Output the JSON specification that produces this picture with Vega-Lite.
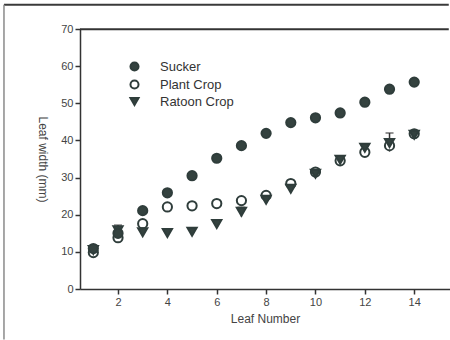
{
  "$schema": "https://vega.github.io/schema/vega-lite/v6.json",
  "width": 370,
  "height": 260,
  "autosize": {"type": "none"},
  "padding": {"left": 80, "top": 29, "right": 0, "bottom": 51},
  "background": "white",
  "config": {
    "view": {"stroke": null},
    "font": "Liberation Sans",
    "axis": {
      "domainColor": "#333",
      "domainWidth": 1.5,
      "tickColor": "#333",
      "tickWidth": 1.5,
      "tickSize": 5,
      "labelColor": "#444",
      "labelFont": "Liberation Sans",
      "labelFontSize": 11,
      "labelOverlap": false,
      "titleColor": "#444",
      "titleFont": "Liberation Sans",
      "titleFontSize": 12,
      "titleFontWeight": "normal",
      "grid": false
    },
    "legend": {
      "labelFont": "Liberation Sans",
      "labelFontSize": 13,
      "labelColor": "#333"
    }
  },
  "datasets": {
    "widths": [
      {"leaf": 1, "series": "Ratoon Crop", "width": 10.5},
      {"leaf": 2, "series": "Ratoon Crop", "width": 15.8},
      {"leaf": 3, "series": "Ratoon Crop", "width": 15.3},
      {"leaf": 4, "series": "Ratoon Crop", "width": 15.1},
      {"leaf": 5, "series": "Ratoon Crop", "width": 15.4},
      {"leaf": 6, "series": "Ratoon Crop", "width": 17.5},
      {"leaf": 7, "series": "Ratoon Crop", "width": 20.8},
      {"leaf": 8, "series": "Ratoon Crop", "width": 24.0},
      {"leaf": 9, "series": "Ratoon Crop", "width": 27.0},
      {"leaf": 10, "series": "Ratoon Crop", "width": 31.0},
      {"leaf": 11, "series": "Ratoon Crop", "width": 34.8},
      {"leaf": 12, "series": "Ratoon Crop", "width": 38.0},
      {"leaf": 13, "series": "Ratoon Crop", "width": 39.3},
      {"leaf": 14, "series": "Ratoon Crop", "width": 41.5},
      {"leaf": 1, "series": "Plant Crop", "width": 9.8},
      {"leaf": 2, "series": "Plant Crop", "width": 13.8},
      {"leaf": 3, "series": "Plant Crop", "width": 17.6},
      {"leaf": 4, "series": "Plant Crop", "width": 22.1},
      {"leaf": 5, "series": "Plant Crop", "width": 22.4},
      {"leaf": 6, "series": "Plant Crop", "width": 23.0},
      {"leaf": 7, "series": "Plant Crop", "width": 23.8},
      {"leaf": 8, "series": "Plant Crop", "width": 25.2},
      {"leaf": 9, "series": "Plant Crop", "width": 28.4},
      {"leaf": 10, "series": "Plant Crop", "width": 31.5},
      {"leaf": 11, "series": "Plant Crop", "width": 34.5},
      {"leaf": 12, "series": "Plant Crop", "width": 36.8},
      {"leaf": 13, "series": "Plant Crop", "width": 38.6},
      {"leaf": 14, "series": "Plant Crop", "width": 41.8},
      {"leaf": 1, "series": "Sucker", "width": 10.9},
      {"leaf": 2, "series": "Sucker", "width": 15.0},
      {"leaf": 3, "series": "Sucker", "width": 21.1},
      {"leaf": 4, "series": "Sucker", "width": 25.9},
      {"leaf": 5, "series": "Sucker", "width": 30.5},
      {"leaf": 6, "series": "Sucker", "width": 35.2},
      {"leaf": 7, "series": "Sucker", "width": 38.6},
      {"leaf": 8, "series": "Sucker", "width": 41.9},
      {"leaf": 9, "series": "Sucker", "width": 44.8},
      {"leaf": 10, "series": "Sucker", "width": 46.1},
      {"leaf": 11, "series": "Sucker", "width": 47.4},
      {"leaf": 12, "series": "Sucker", "width": 50.3},
      {"leaf": 13, "series": "Sucker", "width": 53.8},
      {"leaf": 14, "series": "Sucker", "width": 55.7}
    ],
    "errors": [
      {"leaf": 2, "lo": 14.2, "hi": 17.2},
      {"leaf": 7, "lo": 19.5, "hi": 22.0},
      {"leaf": 13, "lo": 37.0, "hi": 42.0}
    ],
    "pageEdges": [
      {"from": -2.62, "to": 15.4, "level": 76.5}
    ],
    "sideEdges": [
      {"at": -2.62, "low": -13.6, "high": 76.5}
    ],
    "plotTop": [
      {"from": 0.46, "to": 15.4, "level": 69.9}
    ]
  },
  "encoding": {
    "x": {
      "type": "quantitative",
      "title": "Leaf Number",
      "scale": {"domain": [0.46, 15.45], "nice": false, "zero": false},
      "axis": {"values": [2, 4, 6, 8, 10, 12, 14], "titlePadding": 6}
    },
    "y": {
      "type": "quantitative",
      "title": "Leaf width (mm)",
      "scale": {"domain": [0, 70], "nice": false},
      "axis": {"values": [0, 10, 20, 30, 40, 50, 60, 70], "titlePadding": 25, "titleAngle": 90}
    }
  },
  "layer": [
    {
      "data": {"name": "pageEdges"},
      "mark": {"type": "rule", "clip": false, "color": "#3a3a3a", "strokeWidth": 2},
      "encoding": {
        "x": {"field": "from", "type": "quantitative"},
        "x2": {"field": "to"},
        "y": {"field": "level", "type": "quantitative"}
      }
    },
    {
      "data": {"name": "sideEdges"},
      "mark": {"type": "rule", "clip": false, "color": "#8a8a8a", "strokeWidth": 1.5},
      "encoding": {
        "x": {"field": "at", "type": "quantitative"},
        "y": {"field": "low", "type": "quantitative"},
        "y2": {"field": "high"}
      }
    },
    {
      "data": {"name": "plotTop"},
      "mark": {"type": "rule", "clip": false, "color": "#333", "strokeWidth": 2},
      "encoding": {
        "x": {"field": "from", "type": "quantitative"},
        "x2": {"field": "to"},
        "y": {"field": "level", "type": "quantitative"}
      }
    },
    {
      "data": {"name": "errors"},
      "mark": {"type": "rule", "color": "#333", "strokeWidth": 1.5},
      "encoding": {
        "x": {"field": "leaf", "type": "quantitative"},
        "y": {"field": "lo", "type": "quantitative"},
        "y2": {"field": "hi"}
      }
    },
    {
      "data": {"name": "errors"},
      "mark": {"type": "tick", "color": "#333", "thickness": 1.5, "size": 8, "orient": "horizontal"},
      "encoding": {
        "x": {"field": "leaf", "type": "quantitative"},
        "y": {"field": "hi", "type": "quantitative"}
      }
    },
    {
      "data": {"name": "widths"},
      "mark": {"type": "point", "filled": false, "size": 85, "strokeWidth": 2, "opacity": 1, "stroke": "#2f3d3b"},
      "encoding": {
        "x": {"field": "leaf", "type": "quantitative"},
        "y": {"field": "width", "type": "quantitative"},
        "shape": {
          "field": "series",
          "type": "nominal",
          "scale": {
            "domain": ["Sucker", "Plant Crop", "Ratoon Crop"],
            "range": ["circle", "circle", "triangle-down"]
          },
          "legend": {
            "title": null,
            "orient": "none",
            "legendX": 48,
            "legendY": 31,
            "symbolSize": 65,
            "symbolStrokeWidth": 2,
            "rowPadding": 1,
            "labelOffset": 19
          }
        },
        "fill": {
          "field": "series",
          "type": "nominal",
          "scale": {
            "domain": ["Sucker", "Plant Crop", "Ratoon Crop"],
            "range": ["#34423f", "#ffffff", "#34423f"]
          },
          "legend": null
        },
        "order": {"field": "series"}
      }
    }
  ]
}
